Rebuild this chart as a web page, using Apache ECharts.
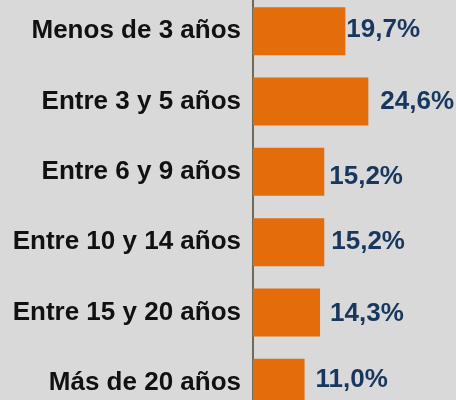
<!DOCTYPE html>
<html>
<head>
<meta charset="utf-8">
<style>
  html, body { margin: 0; padding: 0; background: #d9d9d9; }
  #main { width: 456px; height: 400px; }
</style>
</head>
<body>
<div id="main"></div>
<script src="https://cdn.jsdelivr.net/npm/echarts@6/dist/echarts.min.js"></script>
<script>
    // datos
    var categorias = ['Menos de 3 años', 'Entre 3 y 5 años', 'Entre 6 y 9 años',
        'Entre 10 y 14 años', 'Entre 15 y 20 años', 'Más de 20 años'];
    var valores = [19.7, 24.6, 15.2, 15.2, 14.3, 11.0];

    // ajuste fino de las etiquetas (como en el original)
    var labelGap = [1, 12, 5, 7, 10, 11];
    var labelLift = [-1.5, 0, 5, 0, 1.5, -3];

    var myChart = echarts.init(document.getElementById('main'));

    var seriesData = valores.map(function (v, i) {
        return {
            value: v,
            label: {distance: labelGap[i], offset: [0, labelLift[i]]}
        };
    });

    var option = {
        backgroundColor: '#d9d9d9',
        animation: false,
        grid: {
            left: 253,
            top: -4,
            width: 203,
            height: 422,
            containLabel: false,
            outerBoundsMode: 'none'
        },
        xAxis: {
            type: 'value',
            min: 0,
            max: 43.3,
            show: false
        },
        yAxis: {
            type: 'category',
            data: categorias,
            inverse: true,
            axisLine: {show: true, lineStyle: {color: '#4a452a', width: 1.5}},
            axisTick: {show: false},
            axisLabel: {
                margin: 12,
                color: '#111111',
                fontFamily: 'Liberation Sans',
                fontWeight: 'bold',
                fontSize: 26
            }
        },
        series: [{
            type: 'bar',
            data: seriesData,
            barWidth: 48,
            itemStyle: {color: '#e46c0a'},
            label: {
                show: true,
                position: 'right',
                color: '#17375e',
                fontFamily: 'Liberation Sans',
                fontWeight: 'bold',
                fontSize: 26,
                formatter: function (p) {
                    return p.value.toFixed(1).replace('.', ',') + '%';
                }
            }
        }]
    };

    myChart.setOption(option);
</script>
</body>
</html>
